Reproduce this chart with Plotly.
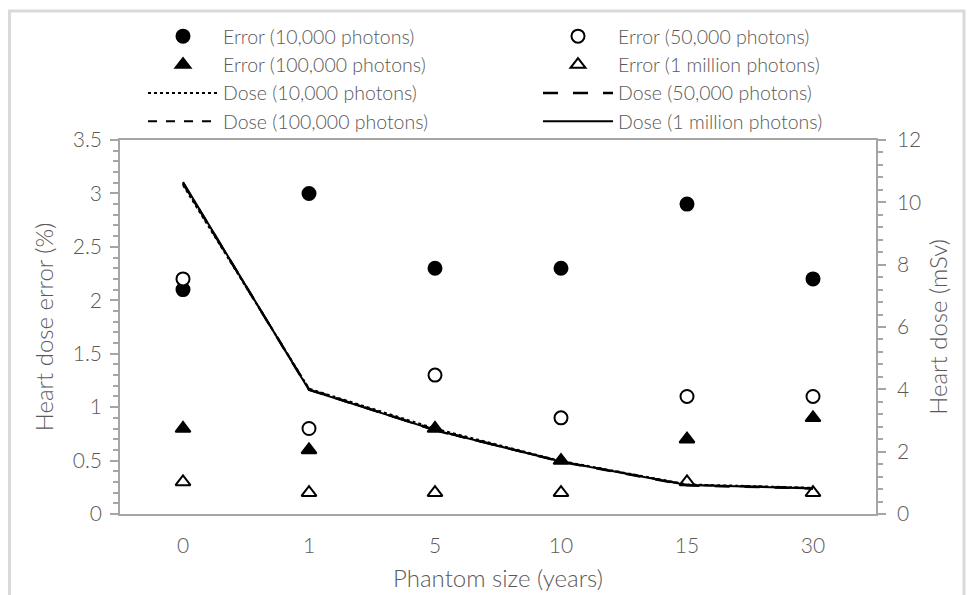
import plotly.graph_objects as go

# ---------------- data ----------------
categories = ["0", "1", "5", "10", "15", "30"]

err_10k = [2.1, 3.0, 2.3, 2.3, 2.9, 2.2]
err_50k = [2.2, 0.8, 1.3, 0.9, 1.1, 1.1]
err_100k = [0.8, 0.6, 0.8, 0.5, 0.7, 0.9]
err_1m = [0.3, 0.2, 0.2, 0.2, 0.3, 0.2]

dose_10k = [10.55, 4.02, 2.74, 1.70, 0.95, 0.84]
dose_50k = [10.62, 3.99, 2.70, 1.68, 0.92, 0.82]
dose_100k = [10.60, 4.01, 2.68, 1.69, 0.94, 0.83]
dose_1m = [10.65, 3.98, 2.69, 1.68, 0.93, 0.82]

left_title = "Heart dose error (%)"
right_title = "Heart dose (mSv)"
x_title = "Phantom size (years)"

# ---------------- layout geometry ----------------
W, H = 971, 595
PL, PR, PT, PB = 120, 876, 140, 514  # plot area in px
pw, ph = PR - PL, PB - PT


def px_x(x):
    return (x - PL) / pw


def px_y(y):
    return (PB - y) / ph


FONT = "Lato, 'Liberation Sans', sans-serif"
TXT = "#595959"
AXC = "#a6a6a6"
WT = 300

fig = go.Figure()

# dose lines (secondary axis)
dose_series = [
    ("Dose (10,000 photons)", dose_10k, "dot", 2, "legend", 3),
    ("Dose (50,000 photons)", dose_50k, "longdash", 2.5, "legend2", 3),
    ("Dose (100,000 photons)", dose_100k, "dash", 2, "legend", 4),
    ("Dose (1 million photons)", dose_1m, "solid", 2, "legend2", 4),
]
for name, vals, dash, w, lg, rank in dose_series:
    fig.add_trace(go.Scatter(
        x=categories, y=vals, name=name, mode="lines", yaxis="y2",
        line=dict(color="black", width=w, dash=dash),
        legend=lg, legendrank=rank,
    ))

# error markers (primary axis)
err_series = [
    ("Error (10,000 photons)", err_10k, "circle", "black", "legend", 1),
    ("Error (50,000 photons)", err_50k, "circle", "white", "legend2", 1),
    ("Error (100,000 photons)", err_100k, "triangle-up", "black", "legend", 2),
    ("Error (1 million photons)", err_1m, "triangle-up", "white", "legend2", 2),
]
for name, vals, sym, fill, lg, rank in err_series:
    fig.add_trace(go.Scatter(
        x=categories, y=vals, name=name, mode="markers",
        marker=dict(symbol=sym, size=13, color=fill,
                    line=dict(color="black", width=2)),
        legend=lg, legendrank=rank,
    ))

legend_common = dict(
    xanchor="left", yanchor="top",
    bgcolor="rgba(0,0,0,0)",
    font=dict(family=FONT, size=19.5, color=TXT, weight=WT),
    tracegroupgap=0, itemwidth=70,
)

tick_font = dict(family=FONT, size=21, color=TXT, weight=WT)
title_font = dict(family=FONT, size=24, color=TXT, weight=WT)

fig.update_layout(
    width=W, height=H,
    margin=dict(l=PL, r=W - PR, t=PT, b=H - PB, autoexpand=False),
    paper_bgcolor="white", plot_bgcolor="white",
    font=dict(family=FONT, size=19, color=TXT, weight=WT),
    showlegend=True,
    legend=dict(x=px_x(143), y=1 + (PT - 17) / ph, **legend_common),
    legend2=dict(x=px_x(538), y=1 + (PT - 17) / ph, **legend_common),
    xaxis=dict(
        type="category", categoryorder="array", categoryarray=categories,
        range=[-0.5, 5.5], automargin=False,
        showline=True, linecolor=AXC, linewidth=1.5, mirror=True,
        showgrid=False, ticks="", zeroline=False,
        tickfont=tick_font,
        ticklabelstandoff=12,
        title=dict(text=x_title, font=title_font, standoff=14),
    ),
    yaxis=dict(
        range=[0, 3.5], dtick=0.5, automargin=False,
        showline=True, linecolor=AXC, linewidth=1.5,
        showgrid=False, zeroline=False,
        ticks="outside", ticklen=8, tickcolor=AXC, tickwidth=1.5,
        minor=dict(dtick=0.1, ticks="outside", ticklen=5, tickcolor=AXC, tickwidth=1.5),
        tickfont=tick_font,
        ticklabelstandoff=4,
        title=dict(text=left_title, font=title_font, standoff=12),
    ),
    yaxis2=dict(
        overlaying="y", side="right",
        range=[0, 12], dtick=2, automargin=False,
        showline=True, linecolor=AXC, linewidth=1.5,
        showgrid=False, zeroline=False,
        ticks="outside", ticklen=8, tickcolor=AXC, tickwidth=1.5,
        minor=dict(dtick=0.4, ticks="outside", ticklen=5, tickcolor=AXC, tickwidth=1.5),
        tickfont=tick_font,
        ticklabelstandoff=7,
        title=dict(text=right_title, font=title_font, standoff=10),
    ),
    shapes=[dict(
        type="rect", xref="paper", yref="paper",
        x0=px_x(9.5), x1=px_x(964), y0=px_y(620), y1=px_y(11),
        line=dict(color="#d9d9d9", width=3), fillcolor="rgba(0,0,0,0)",
        layer="below",
    )],
)

fig.write_html("out.html")
